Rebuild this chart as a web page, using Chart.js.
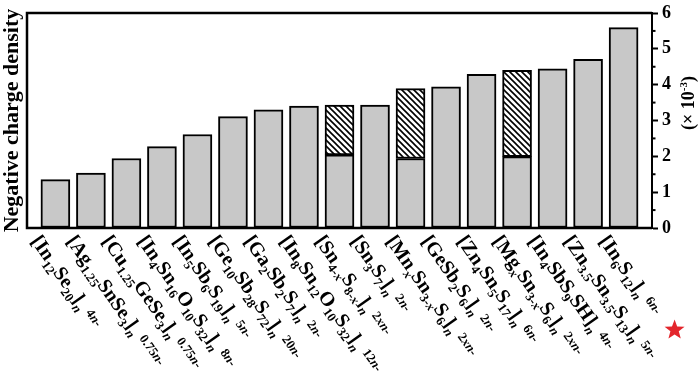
<!DOCTYPE html>
<html>
<head>
<meta charset="utf-8">
<script src="https://cdn.jsdelivr.net/npm/chart.js@4.4.0/dist/chart.umd.min.js"></script>
<style>
  html, body { margin: 0; padding: 0; background: #fff; }
  #chart { display: block; }
</style>
</head>
<body>
<canvas id="chart" width="700" height="385"></canvas>
<script>
// formulas: _{..} subscript, ^{..} charge (superscript)
const compounds = [
  "[In_{12}Se_{20}]_{n}^{4n-}",
  "[Ag_{1.25}SnSe_{3}]_{n}^{0.75n-}",
  "[Cu_{1.25}GeSe_{3}]_{n}^{0.75n-}",
  "[In_{4}Sn_{16}O_{10}S_{32}]_{n}^{8n-}",
  "[In_{5}Sb_{6}S_{19}]_{n}^{5n-}",
  "[Ge_{10}Sb_{28}S_{72}]_{n}^{20n-}",
  "[Ga_{2}Sb_{2}S_{7}]_{n}^{2n-}",
  "[In_{8}Sn_{12}O_{10}S_{32}]_{n}^{12n-}",
  "[Sn_{4-x}S_{8-x}]_{n}^{2xn-}",
  "[Sn_{3}S_{7}]_{n}^{2n-}",
  "[Mn_{x}Sn_{3-x}S_{6}]_{n}^{2xn-}",
  "[GeSb_{2}S_{6}]_{n}^{2n-}",
  "[Zn_{4}Sn_{5}S_{17}]_{n}^{6n-}",
  "[Mg_{x}Sn_{3-x}S_{6}]_{n}^{2xn-}",
  "[In_{4}SbS_{9}SH]_{n}^{4n-}",
  "[Zn_{3.5}Sn_{3.5}S_{13}]_{n}^{5n-}",
  "[In_{6}S_{12}]_{n}^{6n-}"
];

// negative charge density (x 10^-3): gray part (whole bar when no range)
const densityLow = [1.35, 1.53, 1.94, 2.27, 2.61, 3.11, 3.30, 3.40, 2.04, 3.43, 1.94, 3.94, 4.29, 1.99, 4.44, 4.71, 5.59];
// upper end of the range for the x-dependent frameworks (hatched part)
const densityHigh = [null, null, null, null, null, null, null, null, 3.43, null, 3.89, null, null, 4.40, null, null, null];

const yMin = 0;
const yMax = 6;

const serif = '"Liberation Serif", "Times New Roman", serif';

function hatchPattern() {
  const c = document.createElement('canvas');
  c.width = 6; c.height = 6;
  const g = c.getContext('2d');
  g.fillStyle = '#fff';
  g.fillRect(0, 0, 6, 6);
  g.strokeStyle = '#000';
  g.lineWidth = 1.6;
  g.beginPath();
  g.moveTo(-1, -1); g.lineTo(7, 7);
  g.moveTo(-1, 5); g.lineTo(1, 7);
  g.moveTo(5, -1); g.lineTo(7, 1);
  g.stroke();
  return g.createPattern(c, 'repeat');
}

const ctx = document.getElementById('chart').getContext('2d');

function parseFormula(s) {
  const runs = [];
  const re = /([_^])\{([^}]*)\}|([^_^]+)/g;
  let m;
  while ((m = re.exec(s))) {
    if (m[3]) runs.push({ text: m[3], mode: 'main' });
    else runs.push({ text: m[2], mode: m[1] === '_' ? 'sub' : 'sup' });
  }
  return runs;
}

function drawFormula(g, str, x, y, angle) {
  g.save();
  g.translate(x, y);
  g.rotate(angle);
  g.fillStyle = '#000';
  g.textBaseline = 'alphabetic';
  let cx = 0;
  parseFormula(str).forEach(run => {
    if (run.mode === 'sup') cx += 5;
    for (const ch of run.text) {
      let font, dy = 0;
      if (run.mode === 'main') {
        font = 'bold 20px ' + serif;
      } else {
        const it = /[nx]/.test(ch) ? 'italic ' : '';
        font = it + 'bold 13px ' + serif;
        dy = run.mode === 'sub' ? 5 : -4;
      }
      g.font = font;
      g.fillText(ch, cx, dy);
      cx += g.measureText(ch).width;
    }
  });
  g.restore();
}

function drawStar(g, x, y, rOut, rIn) {
  g.save();
  g.beginPath();
  for (let i = 0; i < 10; i++) {
    const r = i % 2 === 0 ? rOut : rIn;
    const a = -Math.PI / 2 + i * Math.PI / 5;
    const px = x + r * Math.cos(a), py = y + r * Math.sin(a);
    if (i === 0) g.moveTo(px, py); else g.lineTo(px, py);
  }
  g.closePath();
  g.fillStyle = '#e3262c';
  g.fill();
  g.restore();
}

const decorations = {
  id: 'decorations',
  afterDatasetsDraw(chart) {
    const g = chart.ctx;
    const area = chart.chartArea;
    const xs = chart.scales.x, ys = chart.scales.y;

    // frame: left, top, bottom (right is the y axis border)
    g.save();
    g.strokeStyle = '#000';
    g.lineWidth = 2.5;
    g.beginPath();
    g.moveTo(area.right, area.top);
    g.lineTo(area.left, area.top);
    g.lineTo(area.left, area.bottom);
    g.lineTo(area.right, area.bottom);
    g.stroke();

    // minor ticks on the right axis
    g.lineWidth = 2;
    for (let v = yMin + 0.5; v < yMax; v += 1) {
      const py = ys.getPixelForValue(v);
      g.beginPath();
      g.moveTo(area.right, py);
      g.lineTo(area.right + 3.5, py);
      g.stroke();
    }
    g.restore();

    // rotated compound labels
    const angle = 55 * Math.PI / 180;
    compounds.forEach((c, i) => {
      const px = xs.getPixelForValue(i);
      drawFormula(g, c, px - 25, area.bottom + 13, angle);
    });

    // star marks this work (last compound)
    const last = xs.getPixelForValue(compounds.length - 1);
    drawStar(g, last + 51, area.bottom + 102, 10.5, 4.4);

    // axis titles
    g.save();
    g.fillStyle = '#000';
    g.textAlign = 'center';
    g.textBaseline = 'middle';
    g.translate(12, (area.top + area.bottom) / 2);
    g.rotate(-Math.PI / 2);
    g.font = 'bold 22px ' + serif;
    g.fillText('Negative charge density', 0, 0);
    g.restore();

    g.save();
    g.fillStyle = '#000';
    g.textBaseline = 'middle';
    g.translate(689, 103);
    g.rotate(-Math.PI / 2);
    const big = 'bold 18px ' + serif, small = 'bold 11px ' + serif;
    const parts = [['(\u00d7 10', big, 0], ['-3', small, -5], [')', big, 0]];
    let w = 0;
    parts.forEach(p => { g.font = p[1]; w += g.measureText(p[0]).width; });
    let cx = -w / 2;
    parts.forEach(p => {
      g.font = p[1];
      g.fillText(p[0], cx, p[2]);
      cx += g.measureText(p[0]).width;
    });
    g.restore();
  }
};

const grayData = densityLow.map((v, i) => ({ x: i, y: v }));
const hatchData = densityHigh.map((v, i) => ({ x: i, y: v === null ? null : v - densityLow[i] }));

new Chart(ctx, {
  type: 'bar',
  data: {
    datasets: [
      {
        label: 'density',
        data: grayData,
        backgroundColor: '#c8c8c8',
        borderColor: '#000',
        borderWidth: 2,
        borderSkipped: false,
        barThickness: 29
      },
      {
        label: 'range',
        data: hatchData,
        backgroundColor: hatchPattern(),
        borderColor: '#000',
        borderWidth: 2,
        borderSkipped: false,
        barThickness: 29
      }
    ]
  },
  options: {
    responsive: false,
    animation: false,
    devicePixelRatio: 1,
    layout: { padding: { left: 27, top: 10, bottom: 157, right: 0 } },
    plugins: {
      legend: { display: false },
      tooltip: { enabled: false }
    },
    scales: {
      x: {
        type: 'linear',
        display: false,
        stacked: true,
        offset: false,
        min: -0.8,
        max: compounds.length - 0.2
      },
      y: {
        position: 'right',
        stacked: true,
        min: yMin,
        max: yMax,
        afterFit: s => { s.width = 48; },
        border: { display: true, color: '#000', width: 2 },
        grid: {
          drawOnChartArea: false,
          drawTicks: true,
          tickLength: 6,
          tickWidth: 2,
          tickColor: '#000'
        },
        ticks: {
          stepSize: 1,
          padding: 4,
          color: '#000',
          font: { family: serif, size: 18, weight: 'bold', lineHeight: 1 }
        }
      }
    }
  },
  plugins: [decorations]
});
</script>
</body>
</html>
